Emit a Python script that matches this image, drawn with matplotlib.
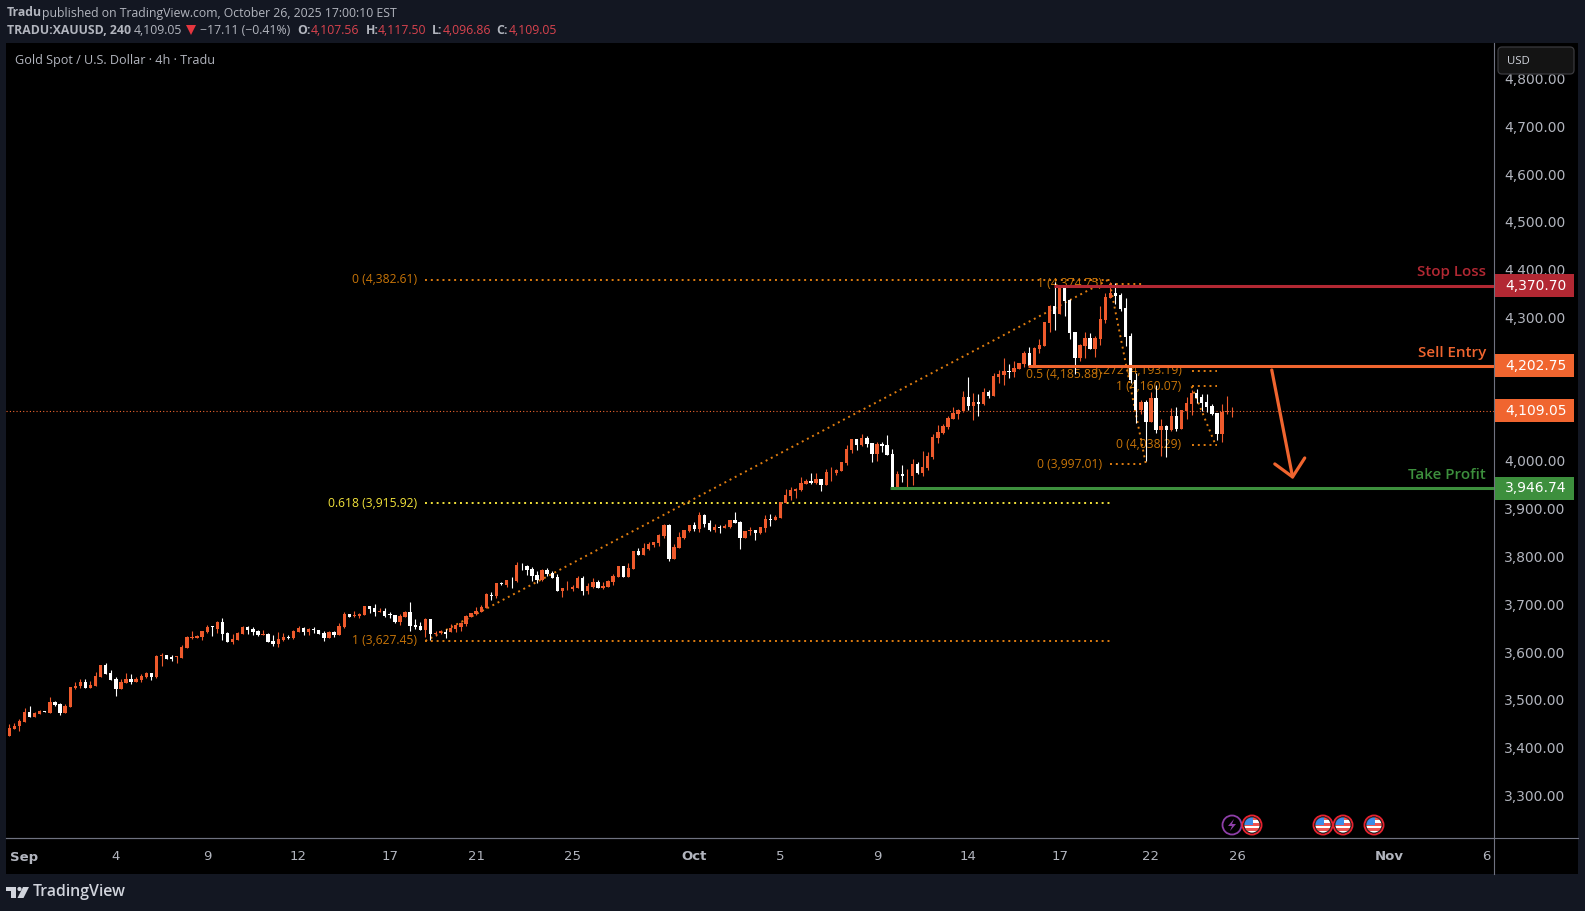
import matplotlib
matplotlib.use('Agg')
import matplotlib.pyplot as plt
from matplotlib.patches import Rectangle, Circle, Polygon, FancyBboxPatch
from matplotlib.transforms import blended_transform_factory, ScaledTranslation

plt.rcParams['font.family'] = ['Open Sans', 'DejaVu Sans']

# 4h candles
opens = [3428, 3443, 3449, 3458, 3479, 3468, 3475, 3480, 3477, 3500, 3495, 3477,
         3489, 3529, 3533, 3541, 3529, 3533, 3552, 3577, 3560, 3548, 3527, 3539,
         3548, 3541, 3546, 3552, 3560, 3552, 3595, 3598, 3594, 3593, 3592, 3613,
         3634, 3634, 3636, 3646, 3658, 3652, 3667, 3644, 3625, 3629, 3642, 3657,
         3652, 3648, 3640, 3642, 3627, 3621, 3629, 3636, 3634, 3646, 3654, 3646,
         3652, 3650, 3644, 3634, 3646, 3640, 3657, 3684, 3680, 3680, 3682, 3700,
         3696, 3688, 3690, 3684, 3682, 3667, 3677, 3688, 3661, 3659, 3650, 3673,
         3642, 3644, 3647, 3646, 3652, 3657, 3663, 3677, 3684, 3688, 3696, 3723,
         3721, 3749, 3744, 3751, 3753, 3785, 3784, 3778, 3765, 3755, 3776, 3770,
         3761, 3732, 3736, 3736, 3738, 3759, 3732, 3740, 3751, 3738, 3740, 3751,
         3761, 3784, 3761, 3778, 3816, 3807, 3820, 3828, 3832, 3847, 3870, 3799,
         3822, 3843, 3857, 3870, 3862, 3891, 3874, 3859, 3866, 3864, 3866, 3880,
         3876, 3843, 3857, 3859, 3853, 3864, 3882, 3880, 3885, 3916, 3931, 3941,
         3943, 3956, 3962, 3958, 3966, 3954, 3980, 3979, 3983, 4000, 4027, 4050,
         4037, 4052, 4042, 4019, 4040, 4037, 4019, 3947, 3977, 3974, 3973, 3998,
         3979, 3989, 4012, 4052, 4062, 4075, 4092, 4102, 4109, 4138, 4119, 4127,
         4123, 4148, 4140, 4180, 4184, 4192, 4190, 4196, 4207, 4230, 4203, 4238,
         4245, 4293, 4328, 4311, 4368, 4341, 4274, 4219, 4245, 4261, 4238, 4259,
         4299, 4345, 4355, 4351, 4324, 4265, 4173, 4111, 4127, 4085, 4136, 4069,
         4077, 4069, 4098, 4071, 4108, 4123, 4146, 4138, 4127, 4119, 4104, 4060,
         4106, 4107.56]
highs = [3453, 3455, 3464, 3486, 3491, 3479, 3482, 3481, 3510, 3502, 3497, 3495,
         3531, 3541, 3548, 3548, 3543, 3562, 3577, 3581, 3567, 3551, 3547, 3560,
         3558, 3552, 3558, 3562, 3560, 3598, 3602, 3598, 3598, 3596, 3619, 3638,
         3648, 3640, 3648, 3661, 3659, 3669, 3675, 3646, 3642, 3646, 3659, 3659,
         3657, 3650, 3650, 3644, 3640, 3646, 3644, 3640, 3650, 3659, 3657, 3654,
         3657, 3650, 3648, 3648, 3648, 3665, 3688, 3684, 3690, 3686, 3700, 3700,
         3705, 3696, 3696, 3688, 3682, 3684, 3690, 3709, 3673, 3667, 3675, 3673,
         3648, 3650, 3652, 3663, 3662, 3668, 3682, 3685, 3698, 3703, 3727, 3730,
         3749, 3751, 3755, 3761, 3793, 3790, 3786, 3782, 3774, 3778, 3780, 3774,
         3767, 3738, 3753, 3744, 3763, 3763, 3749, 3759, 3755, 3751, 3755, 3767,
         3784, 3784, 3790, 3816, 3822, 3832, 3834, 3834, 3851, 3872, 3872, 3830,
         3855, 3859, 3870, 3876, 3897, 3893, 3880, 3872, 3870, 3872, 3880, 3897,
         3878, 3857, 3866, 3859, 3866, 3891, 3893, 3891, 3918, 3945, 3949, 3947,
         3970, 3966, 3979, 3979, 3966, 3987, 3991, 3987, 4002, 4037, 4050, 4050,
         4060, 4056, 4042, 4044, 4044, 4058, 4029, 3983, 3996, 3987, 4008, 4002,
         4025, 4023, 4060, 4079, 4081, 4098, 4117, 4113, 4150, 4180, 4146, 4144,
         4157, 4152, 4188, 4194, 4219, 4207, 4213, 4209, 4234, 4242, 4242, 4259,
         4295, 4330, 4378, 4370, 4370, 4343, 4274, 4249, 4274, 4272, 4265, 4328,
         4355, 4378, 4376, 4355, 4345, 4272, 4188, 4132, 4132, 4148, 4163, 4092,
         4079, 4115, 4117, 4111, 4138, 4152, 4155, 4144, 4144, 4123, 4104, 4123,
         4140, 4117.5]
lows = [3428, 3443, 3439, 3458, 3468, 3468, 3474, 3479, 3477, 3492, 3473, 3477,
        3489, 3527, 3528, 3529, 3529, 3533, 3552, 3558, 3546, 3512, 3527, 3539,
        3537, 3541, 3542, 3550, 3546, 3550, 3575, 3590, 3585, 3581, 3592, 3613,
        3631, 3634, 3629, 3644, 3638, 3644, 3629, 3625, 3621, 3629, 3642, 3642,
        3640, 3638, 3640, 3625, 3617, 3615, 3627, 3631, 3631, 3646, 3640, 3640,
        3644, 3642, 3627, 3634, 3636, 3640, 3654, 3678, 3677, 3675, 3682, 3686,
        3680, 3688, 3677, 3675, 3665, 3661, 3677, 3648, 3652, 3650, 3636, 3629,
        3638, 3642, 3634, 3645, 3647, 3649, 3659, 3677, 3682, 3688, 3696, 3713,
        3717, 3744, 3740, 3738, 3751, 3776, 3765, 3753, 3749, 3753, 3763, 3759,
        3732, 3719, 3734, 3732, 3738, 3723, 3726, 3738, 3738, 3736, 3740, 3744,
        3761, 3761, 3761, 3778, 3807, 3807, 3818, 3824, 3826, 3843, 3795, 3799,
        3822, 3841, 3855, 3857, 3855, 3866, 3857, 3855, 3853, 3864, 3864, 3874,
        3820, 3843, 3849, 3838, 3851, 3855, 3868, 3880, 3885, 3916, 3922, 3926,
        3941, 3956, 3956, 3956, 3941, 3954, 3962, 3975, 3983, 3996, 4021, 4027,
        4035, 4033, 4002, 4004, 4023, 4016, 3945, 3947, 3960, 3947, 3954, 3977,
        3973, 3985, 4008, 4042, 4060, 4071, 4092, 4092, 4106, 4111, 4090, 4098,
        4121, 4136, 4140, 4167, 4163, 4178, 4180, 4196, 4201, 4203, 4203, 4230,
        4245, 4274, 4278, 4311, 4307, 4259, 4186, 4213, 4219, 4238, 4222, 4247,
        4293, 4345, 4332, 4318, 4245, 4167, 4083, 4102, 4004, 4085, 4062, 4014,
        4012, 4067, 4067, 4071, 4092, 4100, 4125, 4108, 4106, 4100, 4048, 4044,
        4102, 4096.86]
closes = [3445, 3450, 3460, 3479, 3468, 3476, 3481, 3479, 3500, 3493, 3476, 3491,
          3531, 3534, 3541, 3529, 3535, 3554, 3577, 3558, 3546, 3527, 3541, 3548,
          3541, 3548, 3554, 3560, 3552, 3596, 3598, 3590, 3590, 3595, 3615, 3636,
          3636, 3638, 3648, 3657, 3657, 3667, 3642, 3625, 3631, 3644, 3657, 3650,
          3646, 3640, 3642, 3625, 3621, 3631, 3636, 3634, 3648, 3654, 3646, 3652,
          3650, 3642, 3634, 3646, 3640, 3659, 3684, 3678, 3682, 3684, 3700, 3694,
          3688, 3690, 3680, 3682, 3667, 3680, 3688, 3659, 3657, 3650, 3673, 3642,
          3644, 3648, 3642, 3654, 3661, 3665, 3680, 3685, 3690, 3698, 3726, 3722,
          3749, 3746, 3755, 3750, 3786, 3784, 3776, 3763, 3755, 3776, 3767, 3759,
          3732, 3738, 3737, 3740, 3759, 3732, 3742, 3751, 3738, 3742, 3753, 3763,
          3784, 3761, 3780, 3816, 3807, 3822, 3830, 3834, 3849, 3870, 3799, 3824,
          3845, 3859, 3870, 3862, 3891, 3872, 3859, 3866, 3864, 3868, 3880, 3874,
          3843, 3857, 3859, 3853, 3866, 3882, 3881, 3887, 3918, 3933, 3943, 3945,
          3958, 3962, 3958, 3966, 3954, 3981, 3981, 3985, 4002, 4029, 4050, 4037,
          4052, 4040, 4019, 4040, 4035, 4016, 3947, 3977, 3973, 3975, 3998, 3979,
          3991, 4014, 4054, 4065, 4077, 4094, 4104, 4111, 4138, 4119, 4127, 4123,
          4148, 4140, 4182, 4186, 4192, 4190, 4198, 4209, 4230, 4203, 4240, 4247,
          4295, 4328, 4311, 4370, 4339, 4272, 4219, 4247, 4261, 4238, 4261, 4301,
          4347, 4355, 4349, 4322, 4263, 4173, 4111, 4127, 4085, 4136, 4069, 4077,
          4069, 4098, 4071, 4111, 4125, 4146, 4136, 4125, 4117, 4102, 4060, 4106,
          4108, 4109.05]

# axis labels (4,100 and 4,200 sit behind the price tags in the reference)
price_ticks = [3300, 3400, 3500, 3600, 3700, 3800, 3900, 4000, 4300, 4400,
               4500, 4600, 4700, 4800]
date_bars = [3, 21, 39, 57, 75, 92, 111, 135, 152, 171, 189, 207, 225, 242, 272, 291]
date_labels = ['Sep', '4', '9', '12', '17', '21', '25', 'Oct', '5', '9', '14', '17', '22', '26', 'Nov', '6']
date_bold = ['Sep', 'Oct', 'Nov']

# drawings on the chart
stop_loss = 4370.70
sell_entry = 4202.75
take_profit = 3946.74
last_price = 4109.05

ORANGE = '#ee5a2c'
PAGE_BG = '#131722'
FIB = '#e07d10'
FIB_TEXT = '#c87508'
YELLOW = '#f3e33a'
RED = '#b22833'
SELL = '#f0652f'
GREEN = '#3d8f3d'
GREY = '#b2b5be'
W, H = 1585, 911

fig = plt.figure(figsize=(W / 100, H / 100), dpi=100, facecolor=PAGE_BG)

# panel behind and pixel overlay on top
bg = fig.add_axes([0, 0, 1, 1], zorder=0)
bg.set_xlim(0, W)
bg.set_ylim(H, 0)
bg.axis('off')
bg.add_patch(Rectangle((6, 43), 1572, 831, color='black', lw=0))

ax = fig.add_axes([6 / W, 1 - 838 / H, 1488 / W, 795 / H], zorder=1, facecolor='black')
ax.set_xlim(-0.65, 292.6)
ax.set_ylim(3215.0, 4878.5)

fg = fig.add_axes([0, 0, 1, 1], zorder=2)
fg.set_xlim(0, W)
fg.set_ylim(H, 0)
fg.axis('off')

# candles
for i in range(len(opens)):
    col = ORANGE if closes[i] >= opens[i] else 'white'
    ax.vlines(i, lows[i], highs[i], color=col, lw=0.8, zorder=3)
    ax.bar(i, abs(closes[i] - opens[i]), 0.66, bottom=min(opens[i], closes[i]), color=col,
           lw=0, zorder=3)

# fib levels
dot = (0, (1, 2))
fib_lines = [(82, 217.3, 4382.61), (82, 217.3, 3627.45),
             (217, 223.2, 4374.75), (217, 223.8, 3997.01),
             (233, 238, 4193.19), (233, 238, 4160.07), (233, 238, 4038.29)]
for x0, x1, p in fib_lines:
    ax.plot([x0, x1], [p, p], color=FIB, lw=1.4, ls=dot, zorder=2)
ax.plot([82, 217.3], [3915.92, 3915.92], color=YELLOW, lw=1.4, ls=dot, zorder=2)
ax.plot([82, 216.5], [3627.45, 4382.61], color=FIB, lw=1.4, ls=dot, zorder=2)
ax.plot([216.9, 224], [4374.75, 3997.01], color=FIB, lw=1.4, ls=dot, zorder=2)
ax.plot([233, 237.7], [4160.07, 4038.29], color=FIB, lw=1.4, ls=dot, zorder=2)

fib_labels = [(80.3, 4382.61, '0 (4,382.61)'), (80.3, 3627.45, '1 (3,627.45)'),
              (215.3, 4374.75, '1 (4,374.75)'), (215.3, 4185.88, '0.5 (4,185.88)'),
              (215.3, 3997.01, '0 (3,997.01)'), (231, 4193.19, '1.272 (4,193.19)'),
              (231, 4160.07, '1 (4,160.07)'), (231, 4038.29, '0 (4,038.29)')]
for x, p, s in fib_labels:
    ax.text(x, p, s, color=FIB_TEXT, fontsize=8.7, ha='right', va='center', zorder=1)
ax.text(80.3, 3915.92, '0.618 (3,915.92)', color=YELLOW, fontsize=8.7, ha='right', va='center', zorder=1)

# price line and trade levels
ax.axhline(last_price, color=SELL, lw=0.8, ls=(0, (1, 2)), zorder=2)
ax.plot([205.9, 292.6], [stop_loss, stop_loss], color=RED, lw=2.2, zorder=4, solid_capstyle='butt')
ax.plot([200.7, 292.6], [sell_entry, sell_entry], color=SELL, lw=2.2, zorder=4, solid_capstyle='butt')
ax.plot([173.5, 292.6], [take_profit, take_profit], color=GREEN, lw=2.2, zorder=4, solid_capstyle='butt')
for p, s, c in [(stop_loss, 'Stop Loss', RED), (sell_entry, 'Sell Entry', SELL), (take_profit, 'Take Profit', GREEN)]:
    ax.annotate(s, (291.0, p), xytext=(0, 9.6), textcoords='offset points', color=c, fontsize=10.9,
                fontweight='semibold', ha='right', va='center', zorder=5)

# sell arrow
ax.plot([248.8, 252.9], [4194.3, 3970.5], color=SELL, lw=2.3, zorder=5, solid_capstyle='round')
ax.plot([249.4, 252.9, 255.3], [3997.7, 3970.5, 4010.2], color=SELL, lw=2.3, zorder=5,
        solid_capstyle='round', solid_joinstyle='round')

# axes
for side in ['top', 'left']:
    ax.spines[side].set_visible(False)
for side in ['right', 'bottom']:
    ax.spines[side].set_color('#6f7280')
    ax.spines[side].set_linewidth(0.8)
ax.yaxis.tick_right()
ax.set_yticks(price_ticks)
ax.set_yticklabels([f'{p:,.2f}' for p in price_ticks], fontsize=10, color=GREY, ha='left',
                   family='DejaVu Sans')
ax.tick_params(axis='y', length=0, pad=7.5)
up_2px = ScaledTranslation(0, 2 / 100, fig.dpi_scale_trans)
for t in ax.get_yticklabels():
    t.set_transform(t.get_transform() + up_2px)
ax.set_xticks(date_bars)
ax.set_xticklabels(date_labels, fontsize=9.5, color=GREY, family='DejaVu Sans')
for t in ax.get_xticklabels():
    if t.get_text() in date_bold:
        t.set_fontweight('bold')
ax.tick_params(axis='x', length=0, pad=9)
fg.plot([6, 1578], [838, 838], color='#6f7280', lw=0.8)
fg.plot([1494, 1494], [838, 874], color='#6f7280', lw=0.8)

# price tags
blend = blended_transform_factory(fg.transData, ax.transData)
tag_half = 11.5 / 0.4779
for p, s, c in [(stop_loss, '4,370.70', RED), (sell_entry, '4,202.75', SELL),
                (last_price, '4,109.05', SELL), (take_profit, '3,946.74', GREEN)]:
    fg.add_patch(Rectangle((1495, p - tag_half), 79, 2 * tag_half, transform=blend, color=c, lw=0))
    fg.text(1505, p, s, transform=blend, color='white', fontsize=10, family='DejaVu Sans',
            ha='left', va='center')

# currency box
fg.add_patch(FancyBboxPatch((1500, 49), 72, 23, boxstyle='round,pad=2,rounding_size=4',
                            fc='#141414', ec='#3a3a3e', lw=0.9))
fg.text(1507, 61.5, 'USD', color='#d1d4dc', fontsize=8.2, ha='left', va='center')

# header
fg.text(7, 13, 'Tradu', color=GREY, fontsize=8.85, fontweight='bold', va='center')
fg.text(42, 13, 'published on TradingView.com, October 26, 2025 17:00:10 EST', color=GREY, fontsize=8.85, va='center')
header = [(7, 'TRADU:XAUUSD, 240', GREY, 'bold'), (134, '4,109.05', GREY, 'normal'),
          (200, '−17.11 (−0.41%)', GREY, 'normal'), (297, 'O:', GREY, 'bold'),
          (311, '4,107.56', '#d9434e', 'normal'), (366, 'H:', GREY, 'bold'),
          (378, '4,117.50', '#d9434e', 'normal'), (432, 'L:', GREY, 'bold'),
          (443, '4,096.86', '#d9434e', 'normal'), (496, 'C:', GREY, 'bold'),
          (509, '4,109.05', '#d9434e', 'normal')]
for x, s, c, w in header:
    fg.text(x, 30, s, color=c, fontsize=8.85, fontweight=w, va='center')
fg.add_patch(Polygon([(186, 25), (196, 25), (191, 35)], color='#e5363f', lw=0))
fg.text(15, 60.5, 'Gold Spot / U.S. Dollar · 4h · Tradu', color=GREY, fontsize=9.05, va='center')

# event icons
fg.add_patch(Circle((1232, 825), 9.5, fc='black', ec='#8e3fa8', lw=1.3))
fg.add_patch(Polygon([(1234, 819), (1228, 826), (1232, 826), (1230, 831), (1236, 824), (1232, 824)],
                     color='#8e3fa8', lw=0))


def flag(cx, cy=825):
    body = Circle((cx, cy), 8, fc='white', ec='none')
    fg.add_patch(body)
    for y0 in [cy - 8, cy - 2, cy + 3]:
        r = Rectangle((cx - 8, y0), 16, 2.8, color='#ef5350', lw=0)
        fg.add_patch(r)
        r.set_clip_path(body)
    r = Rectangle((cx - 8, cy - 8), 9, 8, color='#3c8be8', lw=0)
    fg.add_patch(r)
    r.set_clip_path(body)
    fg.add_patch(Circle((cx, cy), 9.5, fc='none', ec='#e5222f', lw=1.4))
    fg.add_patch(Circle((cx, cy), 8, fc='none', ec='#222222', lw=0.6))


for cx in [1252, 1323, 1343, 1374]:
    flag(cx)

# logo
fg.add_patch(Polygon([(6, 887), (16, 887), (16, 898), (11, 898), (11, 891), (6, 891)], color='#d1d4dc', lw=0))
fg.add_patch(Circle((19.5, 889), 2.1, color='#d1d4dc', lw=0))
fg.add_patch(Polygon([(23, 887), (29, 887), (23.5, 898), (17.5, 898)], color='#d1d4dc', lw=0))
fg.text(33, 892, 'TradingView', color='#d1d4dc', fontsize=11.4, va='center', fontweight='semibold')

fig.savefig('out.png', dpi=100, facecolor=PAGE_BG)
